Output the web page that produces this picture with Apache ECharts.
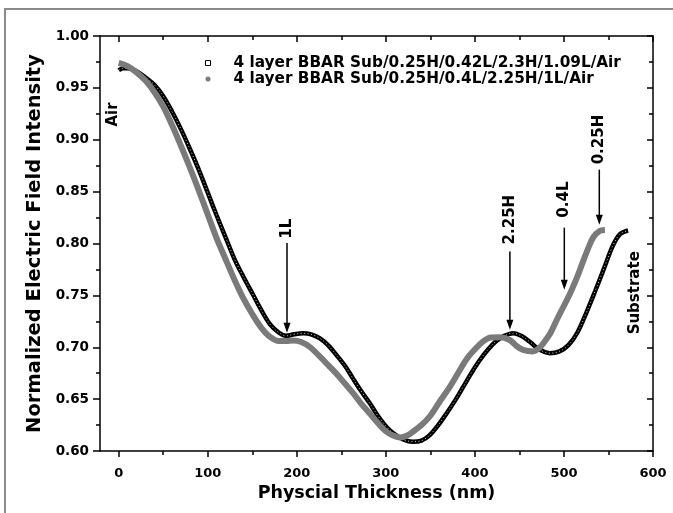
<!DOCTYPE html>
<html>
<head>
<meta charset="utf-8">
<script src="https://cdn.jsdelivr.net/npm/echarts@6/dist/echarts.min.js"></script>
<style>
html,body{margin:0;padding:0;background:#fff;}
#chart{width:673px;height:513px;}
</style>
</head>
<body>
<div id="chart"></div>
<script>
// ---- data ----
const seriesNames = [
  '4 layer BBAR Sub/0.25H/0.42L/2.3H/1.09L/Air',
  '4 layer BBAR Sub/0.25H/0.4L/2.25H/1L/Air'
];
const blackX = [0,5,10,20,30,40,50,60,70,80,90,100,110,120,130,140,150,160,170,180,188,197,207,216,226,235,245,255,263,272,282,291,301,310,320,330,340,349,358,368,378,387,396,405,415,424,433,443,452,462,472,484,495,505,515,525,535,545,555,563,572];
const blackY = [0.967,0.969,0.969,0.966,0.960,0.953,0.942,0.927,0.910,0.891,0.871,0.849,0.827,0.806,0.785,0.768,0.752,0.736,0.722,0.714,0.711,0.7125,0.7135,0.7125,0.7085,0.702,0.692,0.681,0.670,0.658,0.646,0.634,0.623,0.616,0.611,0.609,0.610,0.615,0.624,0.636,0.649,0.662,0.675,0.687,0.698,0.706,0.711,0.7136,0.711,0.705,0.698,0.6943,0.696,0.702,0.714,0.733,0.754,0.776,0.798,0.809,0.8125];
const grayX = [0,10,20,30,40,50,60,70,80,90,100,110,120,130,140,150,160,170,180,188,196,205,215,226,235,245,254,263,272,282,291,300,308,316,324,331,340,349,360,372,381,391,400,409,418,428,439,447,454,465,472,477,485,492,500,507,515,522,528,533,540,546];
const grayY = [0.974,0.971,0.965,0.957,0.946,0.932,0.914,0.894,0.873,0.851,0.828,0.805,0.785,0.765,0.747,0.732,0.719,0.710,0.706,0.706,0.7065,0.705,0.700,0.691,0.683,0.674,0.665,0.656,0.646,0.636,0.627,0.619,0.615,0.613,0.615,0.619,0.625,0.633,0.647,0.662,0.675,0.689,0.698,0.7055,0.7095,0.7097,0.707,0.701,0.6975,0.696,0.699,0.704,0.714,0.7265,0.740,0.752,0.768,0.784,0.797,0.806,0.812,0.813];
const xTicks = [0,100,200,300,400,500,600];
const xMinorTicks = [50,150,250,350,450,550];
// annotations
const arrowLabels = ['1L','2.25H','0.4L','0.25H'];
const arrowX = [189,439.3,500.4,539.7];
const arrowTailY = [0.8005,0.7924,0.8153,0.8712];
const arrowTipY = [0.714,0.7168,0.7554,0.8181];
const arrowLabelY = [0.8143,0.823,0.8423,0.9002];
const sideLabels = ['Air','Substrate'];
const sideLabelX = [-6.7,579.8];
const sideLabelY = [0.9243,0.7525];

const FONT = '"DejaVu Sans", sans-serif';
const chart = echarts.init(document.getElementById('chart'), null, {renderer:'canvas'});

function zip(xs, ys){ return xs.map((x,i)=>[x, ys[i]]); }

const axisLineStyle = {color:'#000', width:1.5};
const xMin = -21, xMax = 600;

const option = {
  animation:false,
  backgroundColor:'#fff',
  grid:{left:100, right:20, top:36, bottom:62},
  legend:{
    orient:'vertical', left:200, top:50, itemGap:0, itemWidth:5, itemHeight:5,
    selectedMode:false,
    textStyle:{fontFamily:FONT, fontWeight:'bold', fontSize:15.3, color:'#000', lineHeight:16, padding:[0,0,0,18]},
    data:[
      {name:seriesNames[0], icon:'rect', itemStyle:{color:'#fff', borderColor:'#000', borderWidth:1}},
      {name:seriesNames[1], icon:'circle', itemStyle:{color:'#7a7a7a', borderWidth:0}}
    ]
  },
  xAxis:[
    {type:'value', position:'bottom', min:xMin, max:xMax,
     axisLine:{show:true, onZero:false, lineStyle:axisLineStyle},
     axisTick:{show:true, inside:false, length:6, customValues:xTicks, lineStyle:{color:'#000', width:1.5}},
     axisLabel:{show:true, customValues:xTicks, margin:16, fontFamily:FONT, fontWeight:'bold', fontSize:13, color:'#000'},
     splitLine:{show:false},
     name:'Physcial Thickness (nm)', nameLocation:'middle', nameGap:33,
     nameTextStyle:{fontFamily:FONT, fontWeight:'bold', fontSize:17.5, color:'#000'}},
    {type:'value', position:'bottom', min:xMin, max:xMax,
     axisLine:{show:false}, axisTick:{show:true, inside:false, length:4, customValues:xMinorTicks, lineStyle:{color:'#000', width:1.5}},
     axisLabel:{show:false}, splitLine:{show:false}},
    {type:'value', position:'top', min:xMin, max:xMax,
     axisLine:{show:true, onZero:false, lineStyle:axisLineStyle},
     axisTick:{show:true, inside:true, length:6, customValues:xTicks, lineStyle:{color:'#000', width:1.5}},
     axisLabel:{show:false}, splitLine:{show:false}},
    {type:'value', position:'top', min:xMin, max:xMax,
     axisLine:{show:false}, axisTick:{show:true, inside:true, length:4, customValues:xMinorTicks, lineStyle:{color:'#000', width:1.5}},
     axisLabel:{show:false}, splitLine:{show:false}}
  ],
  yAxis:[
    {type:'value', position:'left', min:0.6, max:1.0, interval:0.05,
     axisLine:{show:true, onZero:false, lineStyle:axisLineStyle},
     axisTick:{show:true, inside:false, length:7, lineStyle:{color:'#000', width:1.5}},
     minorTick:{show:true, splitNumber:2, length:4, lineStyle:{color:'#000', width:1.5}},
     axisLabel:{margin:11, fontFamily:FONT, fontWeight:'bold', fontSize:13.5, color:'#000', formatter:v=>v.toFixed(2)},
     splitLine:{show:false},
     name:'Normalized Electric Field Intensity', nameLocation:'middle', nameGap:48,
     nameTextStyle:{fontFamily:FONT, fontWeight:'bold', fontSize:19.5, color:'#000'}},
    {type:'value', position:'right', min:0.6, max:1.0, interval:0.05,
     axisLine:{show:true, onZero:false, lineStyle:axisLineStyle},
     axisTick:{show:true, inside:true, length:6, lineStyle:{color:'#000', width:1.5}},
     minorTick:{show:true, splitNumber:2, length:4, lineStyle:{color:'#000', width:1.5}},
     axisLabel:{show:false}, splitLine:{show:false}}
  ],
  series:[
    {name:seriesNames[0], type:'line', xAxisIndex:0, yAxisIndex:0, data:zip(blackX, blackY),
     smooth:0.35, showSymbol:false, lineStyle:{color:'#000', width:4.5}, itemStyle:{color:'#000'}, z:2},
    {name:'__blackTexture', type:'line', xAxisIndex:0, yAxisIndex:0, data:zip(blackX, blackY),
     smooth:0.35, showSymbol:false, lineStyle:{color:'#ffffff', width:1, type:[1,2.5], opacity:0.8}, z:2, silent:true},
    {name:seriesNames[1], type:'line', xAxisIndex:0, yAxisIndex:0, data:zip(grayX, grayY),
     smooth:0.35, showSymbol:false, lineStyle:{color:'#7a7a7a', width:6}, itemStyle:{color:'#7a7a7a'}, z:3}
  ]
};
chart.setOption(option);

function px(x, y){ return chart.convertToPixel({xAxisIndex:0, yAxisIndex:0}, [x, y]); }
const graphics = [];
graphics.push({type:'rect', shape:{x:5, y:9, width:700, height:600}, style:{fill:null, stroke:'#8a8a8a', lineWidth:2}, silent:true, z:0});
const headLen = 10, headW = 3.5;
arrowLabels.forEach((t, i) => {
  const tail = px(arrowX[i], arrowTailY[i]);
  const tip = px(arrowX[i], arrowTipY[i]);
  const lab = px(arrowX[i], arrowLabelY[i]);
  graphics.push({type:'line', shape:{x1:tail[0], y1:tail[1], x2:tip[0], y2:tip[1]-headLen+1}, style:{stroke:'#000', lineWidth:1.5}, z:10});
  graphics.push({type:'polygon', shape:{points:[[tip[0]-headW, tip[1]-headLen],[tip[0]+headW, tip[1]-headLen],[tip[0], tip[1]]]}, style:{fill:'#000'}, z:10});
  graphics.push({type:'text', x:lab[0], y:lab[1], rotation:Math.PI/2, style:{text:t, font:'bold 15px ' + FONT, fill:'#000', align:'center', verticalAlign:'middle'}, z:10});
});
sideLabels.forEach((t, i) => {
  const p = px(sideLabelX[i], sideLabelY[i]);
  graphics.push({type:'text', x:p[0], y:p[1], rotation:Math.PI/2, style:{text:t, font:'bold 15px ' + FONT, fill:'#000', align:'center', verticalAlign:'middle'}, z:10});
});
chart.setOption({graphic:graphics});
</script>
</body>
</html>
